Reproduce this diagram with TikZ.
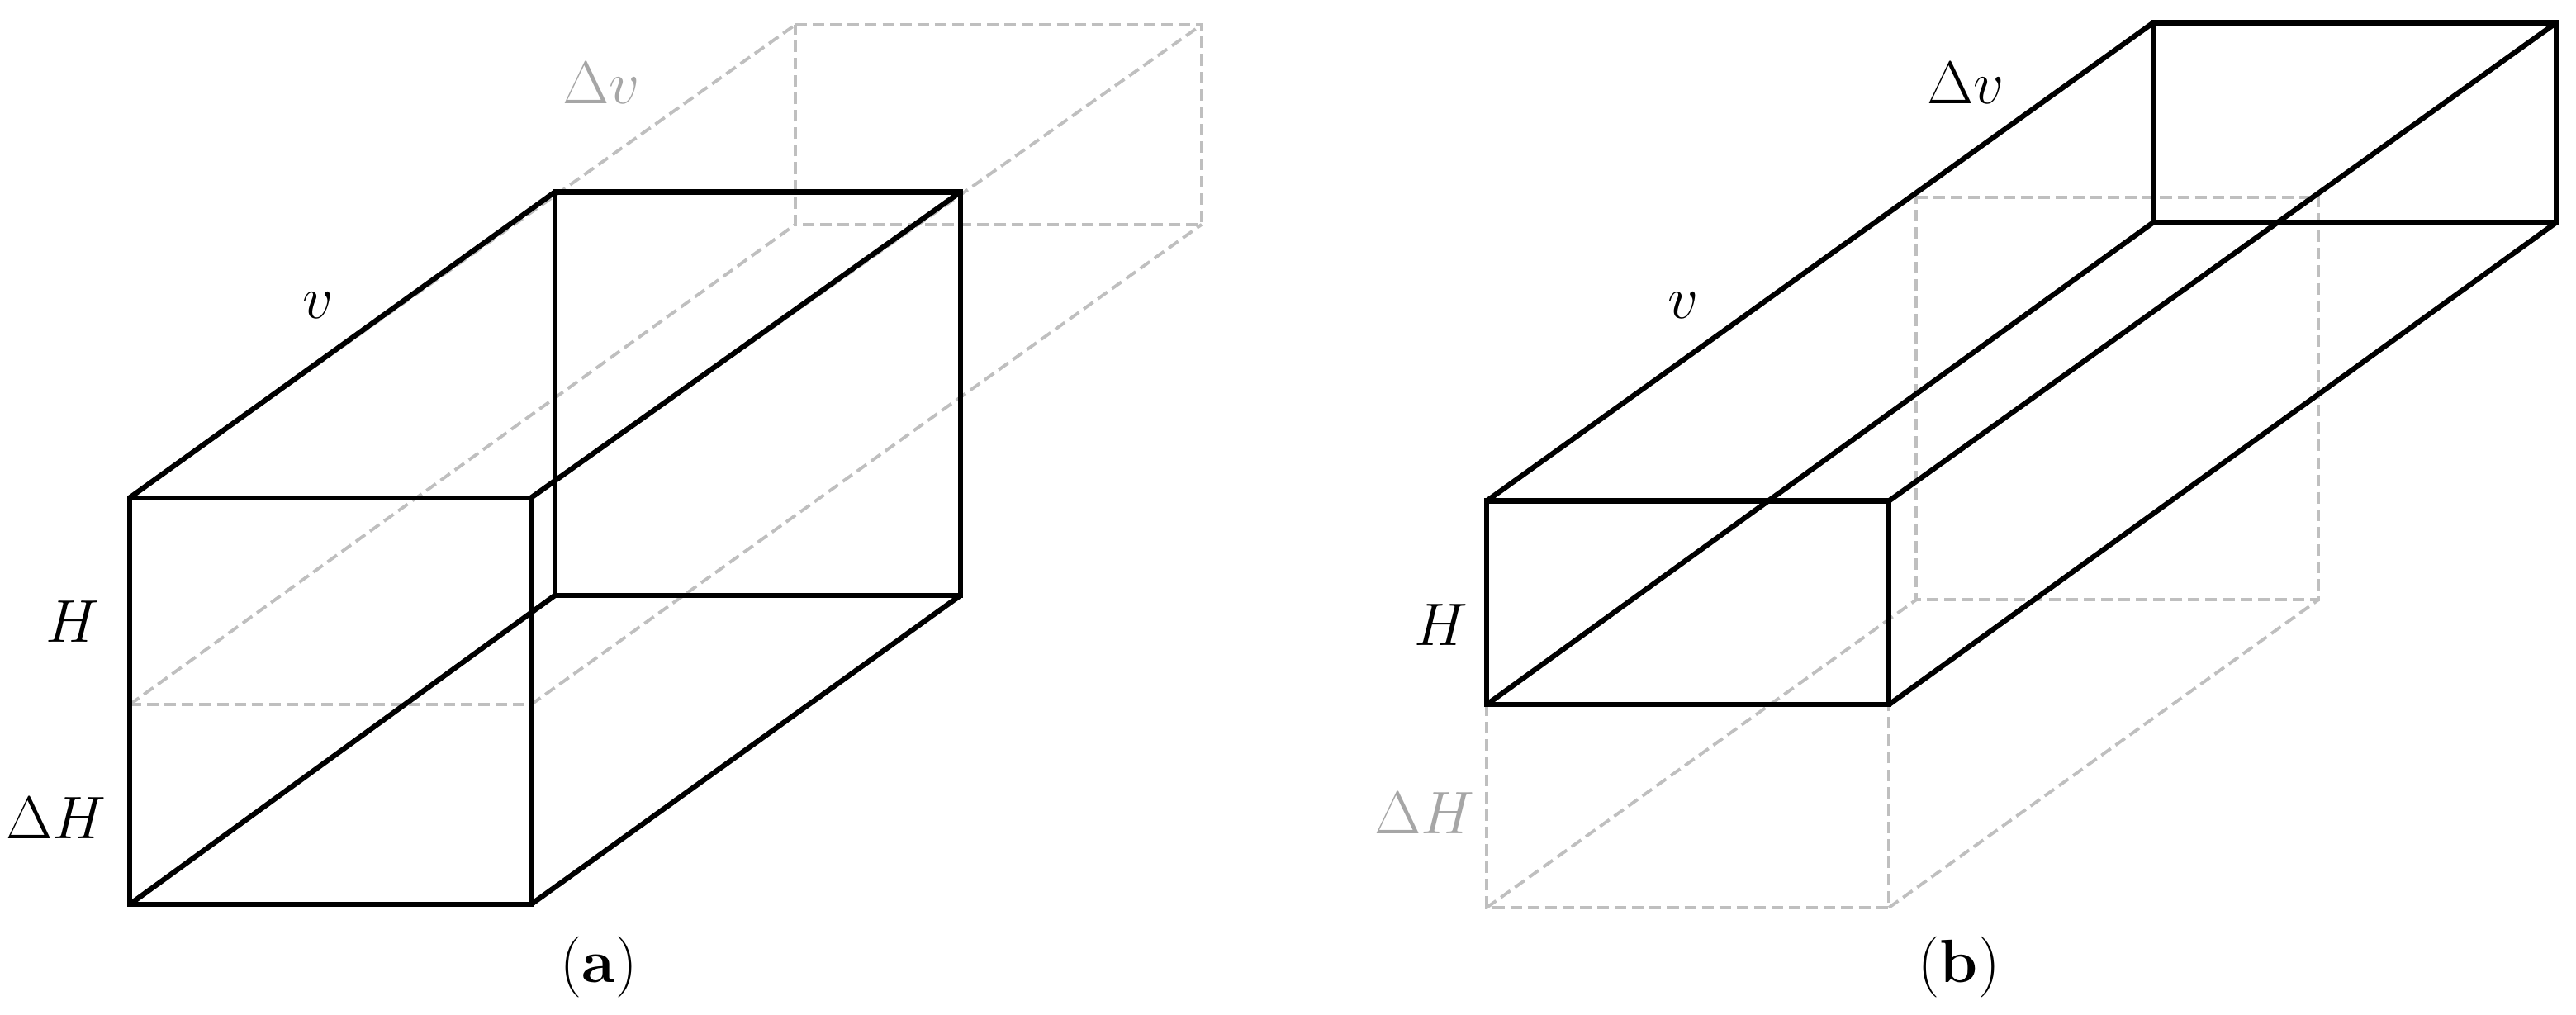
\documentclass[tikz,border=0pt]{standalone}
\begin{document}
\begin{tikzpicture}[x=0.01cm,y=-0.00788cm,
  solid edge/.style={line width=1.8pt,line join=miter,black},
  ghost/.style={line width=1.1pt,color=black!25,dash pattern=on 4pt off 2pt},
  lab/.style={font=\fontsize{21}{25}\selectfont},
  glab/.style={font=\fontsize{21}{25}\selectfont,text=black!35}]
\useasboundingbox (0,0) rectangle (3119,1560);
% ---- panel (a)
\coordinate (aF1) at (157,765); \coordinate (aF2) at (643,765);
\coordinate (aF3) at (643,1390); \coordinate (aF4) at (157,1390);
\coordinate (aB1) at (672,295); \coordinate (aB2) at (1163,295);
\coordinate (aB3) at (1163,915); \coordinate (aB4) at (672,915);
\coordinate (aGm1) at (157,1083); \coordinate (aGm2) at (643,1083);
\coordinate (aG1) at (963,38); \coordinate (aG2) at (1455,38);
\coordinate (aG3) at (1455,345); \coordinate (aG4) at (963,345);
\draw[ghost] (aG1) -- (aG2) -- (aG3) -- (aG4) -- cycle;
\draw[ghost] (aGm1) -- (aGm2);
\draw[ghost] (aF1) -- (aG1) (aF2) -- (aG2) (aGm1) -- (aG4) (aGm2) -- (aG3);
\draw[solid edge] (aF1) -- (aF2) -- (aF3) -- (aF4) -- cycle;
\draw[solid edge] (aB1) -- (aB2) -- (aB3) -- (aB4) -- cycle;
\draw[solid edge] (aF1) -- (aB1) (aF2) -- (aB2) (aF3) -- (aB3) (aF4) -- (aB4);
\node[lab] (av) at (385,470) {$v$};
\node[glab] (adv) at (728,128) {$\Delta v$};
\node[lab] (aH) at (88,955) {$H$};
\node[lab] (adH) at (68,1258) {$\Delta H$};
\node[lab] (acap) at (725,1487) {(\textbf{a})};
% ---- panel (b)
\coordinate (bF1) at (1800,770); \coordinate (bF2) at (2287,770);
\coordinate (bF3) at (2287,1083); \coordinate (bF4) at (1800,1083);
\coordinate (bB1) at (2607,35); \coordinate (bB2) at (3095,35);
\coordinate (bB3) at (3095,342); \coordinate (bB4) at (2607,342);
\coordinate (bG1) at (2320,303); \coordinate (bG2) at (2807,303);
\coordinate (bG3) at (2807,922); \coordinate (bG4) at (2320,922);
\coordinate (bL3) at (2287,1395); \coordinate (bL4) at (1800,1395);
\draw[ghost] (bG1) -- (bG2) -- (bG3) -- (bG4) -- cycle;
\draw[ghost] (bF4) -- (bL4) -- (bL3) -- (bF3);
\draw[ghost] (bL4) -- (bG4) (bL3) -- (bG3);
\draw[solid edge] (bF1) -- (bF2) -- (bF3) -- (bF4) -- cycle;
\draw[solid edge] (bB1) -- (bB2) -- (bB3) -- (bB4) -- cycle;
\draw[solid edge] (bF1) -- (bB1) (bF2) -- (bB2) (bF3) -- (bB3) (bF4) -- (bB4);
\node[lab] (bdv) at (2380,128) {$\Delta v$};
\node[lab] (bv) at (2038,470) {$v$};
\node[lab] (bH) at (1745,960) {$H$};
\node[glab] (bdH) at (1725,1250) {$\Delta H$};
\node[lab] (bcap) at (2372,1487) {(\textbf{b})};
\end{tikzpicture}
\end{document}
